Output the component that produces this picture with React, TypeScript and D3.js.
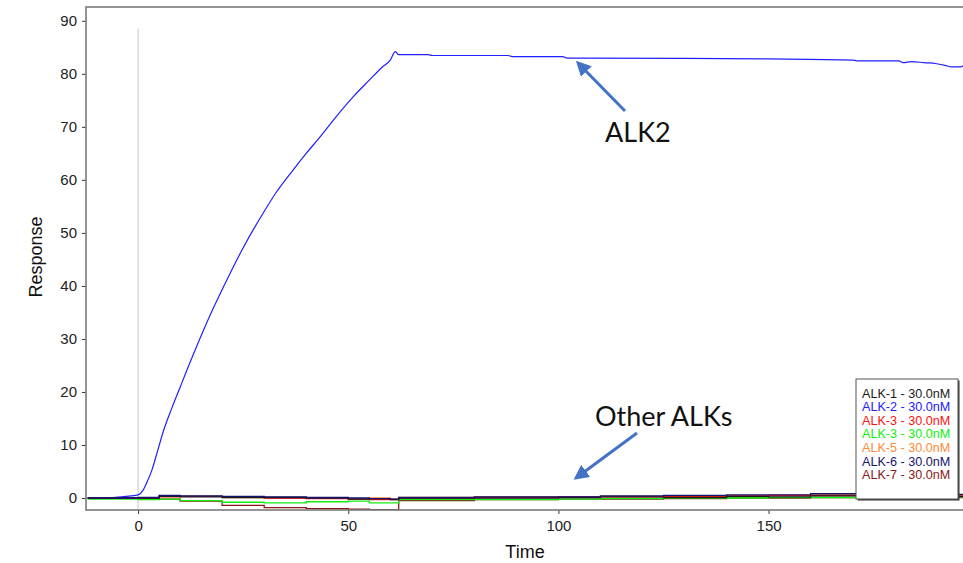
import React, { useEffect, useRef } from "react";
import * as d3 from "d3";

// ALK-2 trace (the only one that binds)
const alk2Times = [-12, -6, -3, 0, 1.2, 2, 3.3, 4.5, 6, 8, 10, 13.1, 17.6, 21.4, 25, 29.8, 33, 36.9, 40, 43.3, 47, 51.2, 55, 58, 60, 61.2, 62, 69, 70, 88, 89, 101, 102, 130, 150, 170, 171, 181, 182, 184, 187, 190, 192, 193.5, 195.7, 196.5];
const alk2Values = [0, 0.1, 0.3, 0.6, 1.5, 2.8, 5.3, 8.5, 12.6, 16.9, 20.9, 27.0, 35.3, 41.6, 47.2, 53.8, 57.8, 61.9, 65, 68.1, 71.8, 75.7, 78.8, 81.2, 82.6, 84.2, 83.6, 83.6, 83.45, 83.45, 83.26, 83.26, 82.96, 82.9, 82.8, 82.6, 82.45, 82.45, 82.1, 82.3, 82.1, 81.9, 81.6, 81.3, 81.3, 81.6];

// the other ALKs, all sampled on the same times
const otherTimes = [-12, 0, 5, 10, 20, 30, 40, 50, 55, 60, 62, 80, 100, 110, 125, 140, 150, 160, 175, 196.5];
const alk1Values = [0, 0, 0.3, 0.2, 0.1, 0.1, 0, -0.2, -0.1, -0.3, 0, 0, 0.1, 0.2, 0.1, 0.3, 0.2, 0.4, 0.3, 0.2];
const alk3Values = [0, 0, 0.2, 0.3, 0.2, 0, -0.1, -0.2, -0.3, -0.3, 0, 0.1, 0.2, 0.2, 0.3, 0.4, 0.5, 0.5, 0.6, 0.3];
const alk3bValues = [-0.2, -0.3, -0.2, -0.5, -0.8, -0.9, -0.7, -0.6, -0.9, -0.9, -0.3, -0.3, -0.2, -0.1, 0, 0, 0.1, 0.1, 0.2, 0.1];
const alk5Values = [0, 0, 0.4, 0.3, 0.1, 0, 0, -0.1, 0, -0.1, 0.1, 0.2, 0.2, 0.3, 0.3, 0.4, 0.5, 0.6, 0.5, 0.4];
const alk6Values = [0, 0.1, 0.5, 0.4, 0.3, 0.2, 0.1, 0, -0.1, -0.2, 0.1, 0.2, 0.2, 0.4, 0.5, 0.6, 0.6, 0.8, 0.7, 0.5];
const alk7Values = [0, 0, -0.2, -0.6, -1.4, -1.8, -2.0, -2.1, -2.2, -2.2, -0.5, -0.3, -0.2, -0.2, -0.1, 0, 0, 0.1, 0.1, 0.2];

const legendLabels = ["ALK-1 - 30.0nM", "ALK-2 - 30.0nM", "ALK-3 - 30.0nM", "ALK-3 - 30.0nM", "ALK-5 - 30.0nM", "ALK-6 - 30.0nM", "ALK-7 - 30.0nM"];
const legendColors = ["#1a1a1a", "#2020ff", "#ff1010", "#10ee10", "#ff8a3a", "#14146e", "#8a1616"];

const xTicks = [0, 50, 100, 150];
const yTicks = [0, 10, 20, 30, 40, 50, 60, 70, 80, 90];

export default function App() {
  const ref = useRef<SVGSVGElement>(null);

  useEffect(() => {
    const width = 963;
    const height = 563;
    const margin = { top: 7, right: -1, bottom: 53, left: 86 };
    const innerWidth = width - margin.left - margin.right;
    const innerHeight = height - margin.top - margin.bottom;

    const svg = d3.select(ref.current);
    svg.selectAll("*").remove();

    const x = d3.scaleLinear().domain([-12.4, 196.5]).range([0, innerWidth]);
    const y = d3.scaleLinear().domain([-2.26, 92.6]).range([innerHeight, 0]);

    const g = svg.append("g").attr("transform", `translate(${margin.left},${margin.top})`);

    g.append("clipPath").attr("id", "plot-clip")
      .append("rect").attr("width", innerWidth).attr("height", innerHeight);

    // marker at injection start
    g.append("line")
      .attr("x1", x(0)).attr("x2", x(0))
      .attr("y1", y(88.5)).attr("y2", innerHeight)
      .attr("stroke", "#d9d9d9").attr("stroke-width", 1.5);

    const plot = g.append("g").attr("clip-path", "url(#plot-clip)");

    const others: [number[], string][] = [
      [alk7Values, legendColors[6]],
      [alk3bValues, legendColors[3]],
      [alk5Values, legendColors[4]],
      [alk3Values, legendColors[2]],
      [alk1Values, legendColors[0]],
      [alk6Values, legendColors[5]],
    ];

    plot.append("path")
      .datum(alk2Times.map((t, i) => [t, alk2Values[i]] as [number, number]))
      .attr("d", d3.line<[number, number]>().x(d => x(d[0])).y(d => y(d[1])).curve(d3.curveMonotoneX))
      .attr("fill", "none")
      .attr("stroke", legendColors[1]).attr("stroke-width", 1.2);

    others.forEach(([vals, color]) => {
      plot.append("path")
        .datum(otherTimes.map((t, i) => [t, vals[i]] as [number, number]))
        .attr("d", d3.line<[number, number]>().x(d => x(d[0])).y(d => y(d[1])).curve(d3.curveStepAfter))
        .attr("fill", "none").attr("stroke", color).attr("stroke-width", 1.3);
    });

    // axes
    const xAxis = g.append("g").attr("transform", `translate(0,${innerHeight})`)
      .call(d3.axisBottom(x).tickValues(xTicks).tickSize(4).tickPadding(6));
    const yAxis = g.append("g")
      .call(d3.axisLeft(y).tickValues(yTicks).tickSize(4).tickPadding(5));
    [xAxis, yAxis].forEach(a => {
      a.select(".domain").remove();
      a.selectAll(".tick line").attr("stroke", "#333");
      a.selectAll(".tick text").attr("font-family", "'Liberation Sans', Arial, sans-serif")
        .attr("font-size", 15).attr("fill", "#222");
    });

    // frame
    g.append("rect").attr("width", innerWidth).attr("height", innerHeight)
      .attr("fill", "none").attr("stroke", "#7a7a7a").attr("stroke-width", 1.6);

    g.append("text").text("Time")
      .attr("x", innerWidth / 2).attr("y", innerHeight + 48)
      .attr("text-anchor", "middle").attr("font-family", "'Liberation Sans', Arial, sans-serif")
      .attr("font-size", 18).attr("fill", "#111");
    g.append("text").text("Response")
      .attr("transform", `translate(${36 - margin.left},${257 - margin.top}) rotate(-90)`)
      .attr("text-anchor", "middle").attr("dy", "0.35em")
      .attr("font-family", "'Liberation Sans', Arial, sans-serif")
      .attr("font-size", 18).attr("fill", "#111");

    // legend
    const lg = svg.append("g").attr("transform", "translate(856,379)");
    lg.append("rect").attr("x", 1.5).attr("y", 1.5).attr("width", 102).attr("height", 120).attr("fill", "#333");
    lg.append("rect").attr("width", 102).attr("height", 120)
      .attr("fill", "#fff").attr("stroke", "#555").attr("stroke-width", 1);
    lg.selectAll("text").data(legendLabels).join("text")
      .text(d => d)
      .attr("x", 6).attr("y", (_, i) => 18.5 + i * 13.6)
      .attr("fill", (_, i) => legendColors[i])
      .attr("font-family", "'Liberation Sans', Arial, sans-serif").attr("font-size", 12.6);

    // annotations
    const defs = svg.append("defs");
    defs.append("marker").attr("id", "arrow-head")
      .attr("viewBox", "0 0 10 10").attr("refX", 8).attr("refY", 5)
      .attr("markerWidth", 5).attr("markerHeight", 5).attr("orient", "auto")
      .append("path").attr("d", "M0,0 L10,5 L0,10 z").attr("fill", "#4472c4");

    const arrows = [
      [625, 111, 578, 63],
      [637, 433, 576, 478],
    ];
    svg.selectAll(".arrow").data(arrows).join("line").attr("class", "arrow")
      .attr("x1", d => d[0]).attr("y1", d => d[1]).attr("x2", d => d[2]).attr("y2", d => d[3])
      .attr("stroke", "#4472c4").attr("stroke-width", 3).attr("marker-end", "url(#arrow-head)");

    svg.append("text").text("ALK2").attr("x", 605).attr("y", 142)
      .attr("font-family", "Lato, 'Open Sans', sans-serif").attr("font-size", 27).attr("fill", "#111");
    svg.append("text").text("Other ALKs").attr("x", 595).attr("y", 426)
      .attr("font-family", "Lato, 'Open Sans', sans-serif").attr("font-size", 27).attr("fill", "#111");
  }, []);

  return (
    <div style={{ position: "absolute", left: 0, top: 0 }}>
      <svg ref={ref} width={963} height={563} style={{ display: "block", background: "#fff" }} />
    </div>
  );
}
